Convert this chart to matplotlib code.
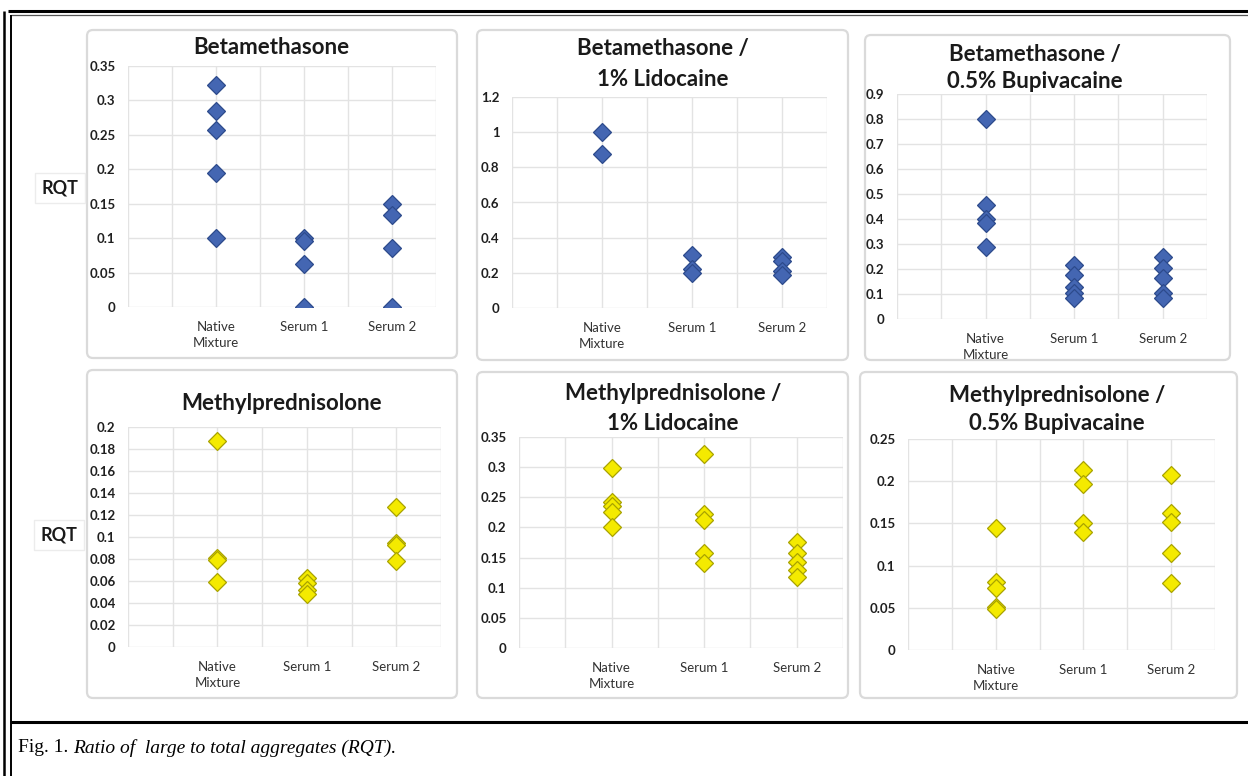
import numpy as np
import matplotlib as mpl
mpl.use('Agg')
import matplotlib.pyplot as plt
from matplotlib.patches import FancyBboxPatch
from matplotlib.ticker import FuncFormatter

plt.rcParams['font.family'] = ['Lato', 'DejaVu Sans']

#######################
# Data (RQT)
#######################
categories = ['Native\nMixture', 'Serum 1', 'Serum 2']

beta_native = [0.322, 0.285, 0.257, 0.195, 0.100]
beta_serum1 = [0.100, 0.096, 0.063, 0.0]
beta_serum2 = [0.150, 0.133, 0.085, 0.0]

beta_lido_native = [1.00, 0.875]
beta_lido_serum1 = [0.30, 0.22, 0.20]
beta_lido_serum2 = [0.29, 0.27, 0.21, 0.19]

beta_bupi_native = [0.80, 0.455, 0.40, 0.385, 0.29]
beta_bupi_serum1 = [0.217, 0.177, 0.13, 0.105, 0.085]
beta_bupi_serum2 = [0.25, 0.204, 0.164, 0.104, 0.084]

methyl_native = [0.187, 0.081, 0.079, 0.059]
methyl_serum1 = [0.063, 0.058, 0.052, 0.048]
methyl_serum2 = [0.127, 0.095, 0.093, 0.078]

methyl_lido_native = [0.299, 0.242, 0.235, 0.226, 0.201]
methyl_lido_serum1 = [0.321, 0.223, 0.212, 0.158, 0.141]
methyl_lido_serum2 = [0.176, 0.157, 0.143, 0.130, 0.117]

methyl_bupi_native = [0.144, 0.081, 0.073, 0.051, 0.049]
methyl_bupi_serum1 = [0.213, 0.197, 0.150, 0.140]
methyl_bupi_serum2 = [0.207, 0.162, 0.152, 0.115, 0.079]

W, H = 1248, 776
BLUE = ('#4466b2', '#2d4a8c')
YELLOW = ('#f4ea00', '#a9a300')

fig = plt.figure(figsize=(W / 100, H / 100), dpi=100)
fig.patch.set_facecolor('white')

# background layer in pixel coords (y down)
bg = fig.add_axes([0, 0, 1, 1], zorder=-5)
bg.set_xlim(0, W)
bg.set_ylim(H, 0)
bg.axis('off')


def px_rect(x0, y0, x1, y1):
    return [x0 / W, 1 - y1 / H, (x1 - x0) / W, (y1 - y0) / H]


def card(x0, y0, x1, y1):
    bg.add_patch(FancyBboxPatch((x0, y0), x1 - x0, y1 - y0,
                                boxstyle='round,pad=0,rounding_size=6',
                                fc='white', ec='#dadada', lw=1.6))


def fmt(v, pos):
    return '{:g}'.format(round(v, 4))


def scatter_panel(rect, series, ymax, ystep, colors):
    ax = fig.add_axes(px_rect(*rect))
    ax.set_facecolor('none')
    for i, vals in enumerate(series):
        ax.plot([i + 1] * len(vals), vals, linestyle='none', marker='D',
                ms=9.5, mfc=colors[0], mec=colors[1], mew=0.9, zorder=3)
    ax.set_xlim(0, 3.5)
    ax.set_ylim(0, ymax)
    ax.set_yticks(np.arange(0, ymax + ystep / 2, ystep))
    ax.yaxis.set_major_formatter(FuncFormatter(fmt))
    ax.set_xticks([1, 2, 3])
    ax.set_xticklabels(categories, linespacing=1.45)
    ax.set_xticks(np.arange(0, 3.6, 0.5), minor=True)
    ax.grid(True, axis='y', color='#e3e3e3', lw=1)
    ax.grid(True, axis='x', which='both', color='#e3e3e3', lw=1)
    ax.tick_params(axis='y', length=0, pad=9, labelsize=9.5, labelcolor='#1f1f1f')
    ax.tick_params(axis='x', which='both', length=0, pad=10, labelsize=9.5,
                   labelcolor='#333333')
    for lab in ax.get_yticklabels():
        lab.set_fontweight('bold')
    for s in ax.spines.values():
        s.set_visible(False)
    ax.set_axisbelow(True)
    return ax


# cards
card(87, 30, 457, 358)
card(477, 30, 848, 360)
card(865, 35, 1230, 360)
card(87, 370, 457, 698)
card(477, 372, 848, 698)
card(860, 372, 1237, 698)

# panels
scatter_panel((128, 66, 436, 307), [beta_native, beta_serum1, beta_serum2],
              0.35, 0.05, BLUE)
scatter_panel((512, 97, 827, 308), [beta_lido_native, beta_lido_serum1, beta_lido_serum2],
              1.2, 0.2, BLUE)
scatter_panel((897, 94, 1207, 319), [beta_bupi_native, beta_bupi_serum1, beta_bupi_serum2],
              0.9, 0.1, BLUE)
scatter_panel((128, 427, 441, 647), [methyl_native, methyl_serum1, methyl_serum2],
              0.2, 0.02, YELLOW)
scatter_panel((519, 437, 843, 648), [methyl_lido_native, methyl_lido_serum1, methyl_lido_serum2],
              0.35, 0.05, YELLOW)
scatter_panel((908, 439, 1215, 650), [methyl_bupi_native, methyl_bupi_serum1, methyl_bupi_serum2],
              0.25, 0.05, YELLOW)

# titles
tkw = dict(ha='center', va='center', fontsize=16, fontweight='bold', color='#1a1a1a')
bg.text(271, 48, 'Betamethasone', **tkw)
bg.text(663, 48, 'Betamethasone /', **tkw)
bg.text(663, 79, '1% Lidocaine', **tkw)
bg.text(1035, 55, 'Betamethasone /', **tkw)
bg.text(1035, 82, '0.5% Bupivacaine', **tkw)
bg.text(282, 403, 'Methylprednisolone', **tkw)
bg.text(673, 393, 'Methylprednisolone /', **tkw)
bg.text(673, 423, '1% Lidocaine', **tkw)
bg.text(1057, 395, 'Methylprednisolone /', **tkw)
bg.text(1057, 423, '0.5% Bupivacaine', **tkw)

# RQT labels
rkw = dict(ha='center', va='center', fontsize=13, fontweight='bold', color='#1a1a1a',
           bbox=dict(boxstyle='square,pad=0.35', fc='white', ec='#ececec', lw=1))
bg.text(60, 188, 'RQT', **rkw)
bg.text(59, 535, 'RQT', **rkw)

# outer frame and caption separator
bg.plot([8, W], [11, 11], color='black', lw=2.2, solid_capstyle='butt')
bg.plot([11, W], [14.5, 14.5], color='#555555', lw=0.9, solid_capstyle='butt')
bg.plot([4, 4], [11, H], color='black', lw=1.8, solid_capstyle='butt')
bg.plot([11, 11], [14.5, H], color='black', lw=1.4, solid_capstyle='butt')
bg.plot([11, W], [722, 722], color='black', lw=2.2, solid_capstyle='butt')

# caption
ckw = dict(va='center', ha='left', fontsize=14, family=['Liberation Serif', 'DejaVu Serif'],
           color='black')
t1 = bg.text(18, 748, 'Fig. 1. ', **ckw)
fig.canvas.draw()
bb = t1.get_window_extent(renderer=fig.canvas.get_renderer())
x_end = bg.transData.inverted().transform((bb.x1, bb.y0))[0]
bg.text(x_end, 748, 'Ratio of  large to total aggregates (RQT).', style='italic', **ckw)

fig.savefig('out.png', dpi=100, facecolor='white')
